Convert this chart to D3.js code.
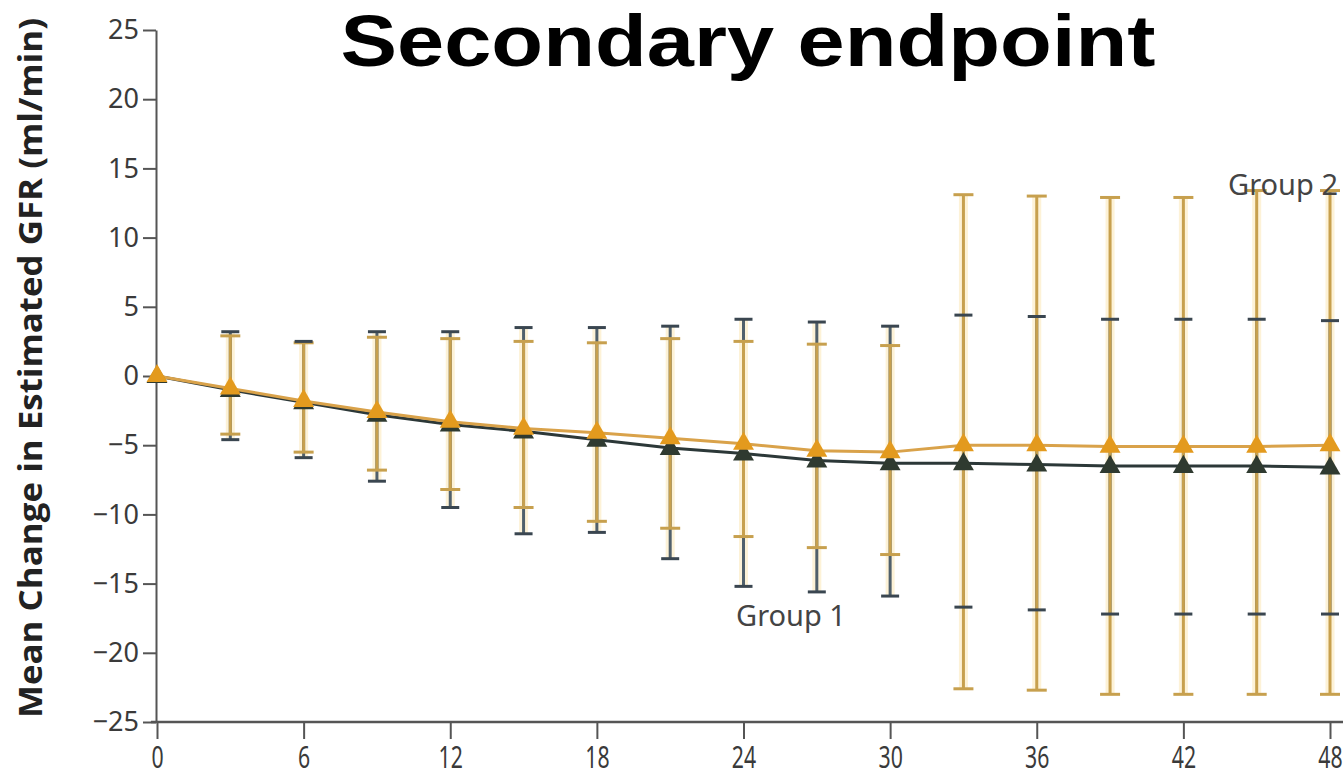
<!DOCTYPE html>
<html>
<head>
<meta charset="utf-8">
<script src="https://cdn.jsdelivr.net/npm/d3@7"></script>
<style>
  html, body { margin: 0; padding: 0; background: #ffffff; overflow: hidden; }
  svg { display: block; }
</style>
</head>
<body>
<svg id="chart" width="1343" height="779"></svg>
<script>
// ---- data ----
const months = [0, 3, 6, 9, 12, 15, 18, 21, 24, 27, 30, 33, 36, 39, 42, 45, 48];
const xTickValues = [0, 6, 12, 18, 24, 30, 36, 42, 48];
const yTickValues = [-25, -20, -15, -10, -5, 0, 5, 10, 15, 20, 25];

const group1Mean = [0, -1.0, -1.9, -2.8, -3.5, -4.0, -4.6, -5.2, -5.6, -6.1, -6.3, -6.3, -6.4, -6.5, -6.5, -6.5, -6.6];
const group1Hi   = [0, 3.2, 2.5, 3.2, 3.2, 3.5, 3.5, 3.6, 4.1, 3.9, 3.6, 4.4, 4.3, 4.1, 4.1, 4.1, 4.0];
const group1Lo   = [0, -4.6, -5.9, -7.6, -9.5, -11.4, -11.3, -13.2, -15.2, -15.6, -15.9, -16.7, -16.9, -17.2, -17.2, -17.2, -17.2];

const group2Mean = [0, -0.9, -1.8, -2.6, -3.3, -3.8, -4.1, -4.5, -4.9, -5.4, -5.5, -5.0, -5.0, -5.1, -5.1, -5.1, -5.0];
const group2Hi   = [0, 2.9, 2.4, 2.8, 2.7, 2.5, 2.4, 2.7, 2.5, 2.3, 2.2, 13.1, 13.0, 12.9, 12.9, 13.4, 13.4];
const group2Lo   = [0, -4.2, -5.5, -6.8, -8.2, -9.5, -10.5, -11.0, -11.6, -12.4, -12.9, -22.6, -22.7, -23.0, -23.0, -23.0, -23.0];

const titleText = "Secondary endpoint";
const yLabelText = "Mean Change in Estimated GFR (ml/min)";
const group1Label = "Group 1";
const group2Label = "Group 2";

// ---- build ----
const svg = d3.select("#chart");
const W = 1343, H = 779;

const x = d3.scaleLinear().domain([0, 48]).range([157, 1330]);
const y = d3.scaleLinear().domain([-25, 25]).range([722, 30]);

const g1 = months.map((m, i) => ({ m, mean: group1Mean[i], hi: group1Hi[i], lo: group1Lo[i] }));
const g2 = months.map((m, i) => ({ m, mean: group2Mean[i], hi: group2Hi[i], lo: group2Lo[i] }));

const orange = "#E39A1E";
const orangeBar = "#C7A04E";
const darkLine = "#2C3838";
const darkBar = "#50606C";
const darkCap = "#3A4650";

// Title
svg.append("text")
  .attr("x", 748).attr("y", 66)
  .attr("text-anchor", "middle")
  .attr("font-family", "Liberation Sans, Arial, sans-serif")
  .attr("font-weight", "bold")
  .attr("font-size", 73)
  .attr("textLength", 815)
  .attr("lengthAdjust", "spacingAndGlyphs")
  .attr("fill", "#000")
  .text(titleText);

// Y axis label
svg.append("text")
  .attr("transform", "translate(42,368) rotate(-90)")
  .attr("text-anchor", "middle")
  .attr("font-family", "Open Sans, Noto Sans, sans-serif")
  .attr("font-weight", "bold")
  .attr("font-size", 32)
  .attr("textLength", 700)
  .attr("lengthAdjust", "spacingAndGlyphs")
  .attr("fill", "#222")
  .text(yLabelText);

// Y axis
const yAxis = svg.append("g")
  .attr("transform", `translate(${x(0) - 1},0)`)
  .call(d3.axisLeft(y).tickValues(yTickValues).tickSize(13).tickSizeOuter(0).tickPadding(4)
    .tickFormat(d => d < 0 ? "\u2212" + Math.abs(d) : d));
yAxis.select(".domain").attr("stroke", "#555").attr("stroke-width", 2);
yAxis.selectAll(".tick line").attr("stroke", "#555").attr("stroke-width", 2);
yAxis.selectAll(".tick text")
  .attr("font-family", "Noto Sans, Open Sans, sans-serif")
  .attr("font-size", 27)
  .attr("fill", "#3a3a3a");

// X axis
const xAxis = svg.append("g")
  .attr("transform", `translate(0,${y(-25)})`)
  .call(d3.axisBottom(x).tickValues(xTickValues).tickSize(17).tickSizeOuter(0).tickPadding(6));
xAxis.select(".domain").remove();
xAxis.insert("line", ":first-child")
  .attr("x1", x(-0.25)).attr("x2", W)
  .attr("y1", 0).attr("y2", 0)
  .attr("stroke", "#555").attr("stroke-width", 2.5);
xAxis.selectAll(".tick line").attr("stroke", "#555").attr("stroke-width", 2);
xAxis.selectAll(".tick text")
  .attr("font-family", "Noto Sans, Open Sans, sans-serif")
  .attr("font-size", 25)
  .attr("fill", "#3a3a3a")
  .attr("y", 0).attr("dy", 0)
  .attr("transform", "translate(0,46) scale(0.85,1.2)");

const withBars = (d) => d.m > 0;

// halo under orange whiskers (soft glow in the original)
svg.append("g").selectAll("line")
  .data(g2.filter(withBars)).join("line")
  .attr("x1", d => x(d.m)).attr("x2", d => x(d.m))
  .attr("y1", d => y(Math.max(d.hi, g1[months.indexOf(d.m)].hi)))
  .attr("y2", d => y(Math.min(d.lo, g1[months.indexOf(d.m)].lo)))
  .attr("stroke", "#FCE9B8").attr("stroke-width", 9).attr("opacity", 0.55);

// Group 1 whiskers
svg.append("g").selectAll("line")
  .data(g1.filter(withBars)).join("line")
  .attr("x1", d => x(d.m)).attr("x2", d => x(d.m))
  .attr("y1", d => y(d.hi)).attr("y2", d => y(d.lo))
  .attr("stroke", darkBar).attr("stroke-width", 3);

// Group 2 whiskers
svg.append("g").selectAll("line")
  .data(g2.filter(withBars)).join("line")
  .attr("x1", d => x(d.m)).attr("x2", d => x(d.m))
  .attr("y1", d => y(d.hi)).attr("y2", d => y(d.lo))
  .attr("stroke", orangeBar).attr("stroke-width", 3);

// caps
function caps(data, color, half, width) {
  const gg = svg.append("g");
  ["hi", "lo"].forEach(k => {
    gg.selectAll("line." + k)
      .data(data.filter(withBars)).join("line")
      .attr("class", k)
      .attr("x1", d => x(d.m) - half).attr("x2", d => x(d.m) + half)
      .attr("y1", d => y(d[k])).attr("y2", d => y(d[k]))
      .attr("stroke", color).attr("stroke-width", width);
  });
}
caps(g2, orangeBar, 10, 3);
caps(g1, darkCap, 9, 3);

// lines
const line = d3.line().x(d => x(d.m)).y(d => y(d.mean));
svg.append("path").datum(g1).attr("d", line)
  .attr("fill", "none").attr("stroke", darkLine).attr("stroke-width", 3);
svg.append("path").datum(g2).attr("d", line)
  .attr("fill", "none").attr("stroke", "#D9A24A").attr("stroke-width", 3);

// markers
const tri = d3.symbol().type(d3.symbolTriangle).size(190);
svg.append("g").selectAll("path")
  .data(g1).join("path")
  .attr("d", tri)
  .attr("transform", d => `translate(${x(d.m)},${y(d.mean) + 1})`)
  .attr("fill", "#2F3A30");
svg.append("g").selectAll("path")
  .data(g2).join("path")
  .attr("d", tri)
  .attr("transform", d => `translate(${x(d.m)},${y(d.mean)})`)
  .attr("fill", orange);

// group labels
svg.append("text")
  .attr("x", 1338).attr("y", 195)
  .attr("text-anchor", "end")
  .attr("font-family", "Noto Sans, Open Sans, sans-serif")
  .attr("font-size", 29)
  .attr("fill", "#444")
  .text(group2Label);
svg.append("text")
  .attr("x", 791).attr("y", 626)
  .attr("text-anchor", "middle")
  .attr("font-family", "Noto Sans, Open Sans, sans-serif")
  .attr("font-size", 29)
  .attr("fill", "#444")
  .text(group1Label);
</script>
</body>
</html>
